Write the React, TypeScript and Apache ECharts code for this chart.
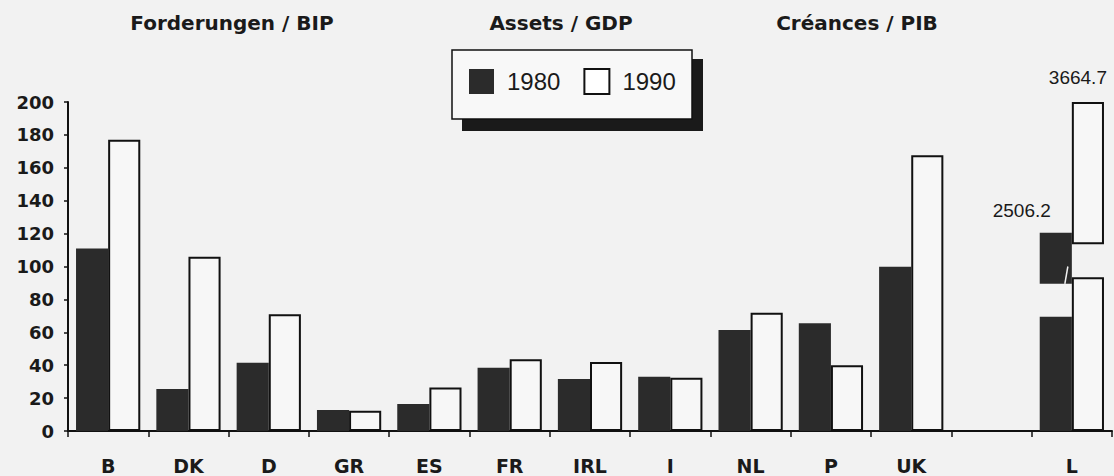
import React, { useEffect, useRef } from 'react';
import * as echarts from 'echarts';

// Categories (one empty slot before Luxembourg)
const categories = ['B', 'DK', 'D', 'GR', 'ES', 'FR', 'IRL', 'I', 'NL', 'P', 'UK', '', 'L'];
// Assets / GDP in %, as drawn (L drawn below the axis break)
const values1980 = [111, 25.5, 41.5, 12.8, 16.4, 38.5, 31.6, 33, 61.4, 65.5, 99.9, null, 69.5];
const values1990 = [177, 106, 71, 12.3, 26.5, 43.6, 42, 32.4, 71.9, 39.9, 167.6, null, 93.4];
// Luxembourg: true values and the drawn pieces above the break [1980, 1990]
const luxValues = [2506.2, 3664.7];
const luxBreakGaps = [20, 20.2];
const luxBreakTops = [31, 86.4];
const yTicks = { min: 0, max: 200, interval: 20 };
const titles = ['Forderungen / BIP', 'Assets / GDP', 'Créances / PIB'];

const DARK = '#2b2b2b';
const LINE = '#111111';
const LIGHT = '#f7f7f7';

const onlyL = (v: number) => categories.map((c) => (c === 'L' ? v : '-'));

export default function App() {
  const ref = useRef<HTMLDivElement>(null);
  useEffect(() => {
    if (!ref.current) return;
    const chart = echarts.init(ref.current, undefined, { renderer: 'svg' });
    const whiteStyle = { color: LIGHT, borderColor: LINE, borderWidth: 2 };
    const darkStyle = { color: DARK };
    const common = { type: 'bar', barGap: '0%', barCategoryGap: '20%' };
    const baseGraphic: any[] = [
      ...titles.map((t, i) => ({
        type: 'text',
        id: 'title' + i,
        x: [232, 561, 857][i],
        y: 23,
        style: {
          text: t,
          fill: '#1a1a1a',
          font: 'bold 20px "DejaVu Sans"',
          textAlign: 'center',
          textVerticalAlign: 'middle',
        },
      })),
      { type: 'rect', id: 'shadow', z: 1, shape: { x: 462, y: 59, width: 241, height: 72 }, style: { fill: '#1a1a1a' } },
      {
        type: 'rect',
        id: 'box',
        z: 2,
        shape: { x: 452, y: 50, width: 240, height: 69 },
        style: { fill: '#f8f8f8', stroke: LINE, lineWidth: 1.5 },
      },
    ];
    chart.setOption({
      animation: false,
      backgroundColor: '#f2f2f2',
      textStyle: { fontFamily: 'DejaVu Sans' },
      grid: { left: 68, right: 2, top: 102, bottom: 45 },
      legend: {
        left: 469,
        top: 68,
        padding: 0,
        itemWidth: 25,
        itemHeight: 25,
        itemGap: 23,
        icon: 'rect',
        z: 10,
        textStyle: { fontFamily: 'Liberation Sans', fontSize: 24, color: '#1a1a1a', padding: [4, 0, 0, 8] },
        data: [
          { name: '1980', itemStyle: { color: DARK } },
          { name: '1990', itemStyle: { color: '#ffffff', borderColor: LINE, borderWidth: 2 } },
        ],
      },
      graphic: baseGraphic,
      xAxis: {
        type: 'category',
        data: categories,
        axisLine: { lineStyle: { color: LINE, width: 2 } },
        axisTick: { show: true, length: 6, interval: 0, lineStyle: { color: LINE, width: 1.5 } },
        axisLabel: {
          interval: 0,
          margin: 25,
          fontFamily: 'DejaVu Sans',
          fontWeight: 'bold',
          fontSize: 19,
          color: '#1a1a1a',
        },
      },
      yAxis: {
        type: 'value',
        min: yTicks.min,
        max: yTicks.max,
        interval: yTicks.interval,
        splitLine: { show: false },
        axisLine: { show: true, lineStyle: { color: LINE, width: 2 } },
        axisTick: { show: true, length: 4, lineStyle: { color: LINE, width: 1.5 } },
        axisLabel: {
          margin: 14,
          fontFamily: 'DejaVu Sans',
          fontWeight: 'bold',
          fontSize: 18,
          color: '#1a1a1a',
        },
      },
      series: [
        { ...common, name: '1980', stack: 'a', data: values1980.map((v) => (v == null ? '-' : v)), itemStyle: darkStyle },
        {
          ...common,
          name: 'gap80',
          stack: 'a',
          data: onlyL(luxBreakGaps[0]),
          itemStyle: { color: 'rgba(0,0,0,0)' },
          silent: true,
        },
        {
          ...common,
          name: '1980',
          stack: 'a',
          data: onlyL(luxBreakTops[0]),
          itemStyle: darkStyle,
          label: {
            show: true,
            position: 'top',
            offset: [-34, -8],
            formatter: () => luxValues[0].toFixed(1),
            fontFamily: 'Liberation Sans',
            fontSize: 19,
            color: '#1a1a1a',
          },
        },
        { ...common, name: '1990', stack: 'b', data: values1990.map((v) => (v == null ? '-' : v)), itemStyle: whiteStyle },
        {
          ...common,
          name: 'gap90',
          stack: 'b',
          data: onlyL(luxBreakGaps[1]),
          itemStyle: { color: 'rgba(0,0,0,0)' },
          silent: true,
        },
        {
          ...common,
          name: '1990',
          stack: 'b',
          data: onlyL(luxBreakTops[1]),
          itemStyle: whiteStyle,
          label: {
            show: true,
            position: 'top',
            offset: [-10, -10],
            formatter: () => luxValues[1].toFixed(1),
            fontFamily: 'Liberation Sans',
            fontSize: 19,
            color: '#1a1a1a',
          },
        },
      ],
    });
    // small white break stroke across the upper piece of the 1980 L bar
    const lowTop = values1980[values1980.length - 1] as number;
    const breakBase = lowTop + luxBreakGaps[0];
    const p1 = chart.convertToPixel({ gridIndex: 0 }, ['L', breakBase + 10.5]) as number[];
    const p2 = chart.convertToPixel({ gridIndex: 0 }, ['L', breakBase]) as number[];
    if (p1 && p2) {
      chart.setOption({
        graphic: [
          ...baseGraphic,
          {
            type: 'line',
            id: 'slash',
            z: 20,
            shape: { x1: p1[0] - 4, y1: p1[1], x2: p2[0] - 7, y2: p2[1] },
            style: { stroke: '#f2f2f2', lineWidth: 1.5 },
          },
        ],
      });
    }
    return () => chart.dispose();
  }, []);
  return <div ref={ref} style={{ position: 'fixed', left: 0, top: 0, width: 1114, height: 476 }} />;
}
